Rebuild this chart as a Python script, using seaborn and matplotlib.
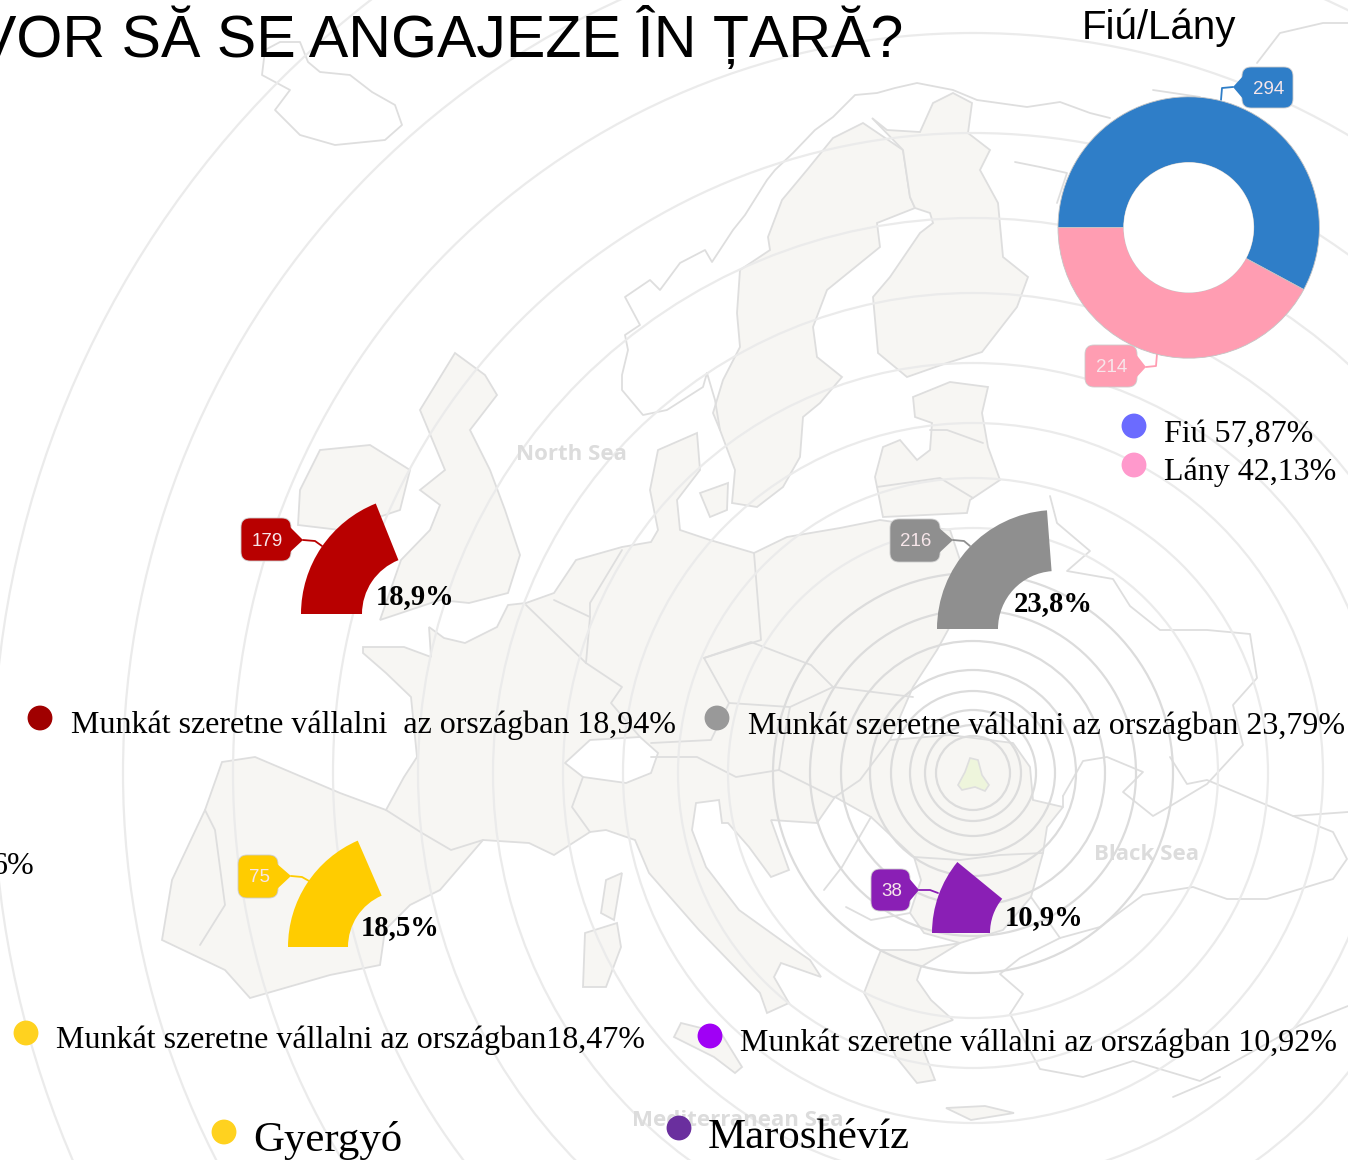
import numpy as np
import pandas as pd
import seaborn as sns
import matplotlib
matplotlib.use('Agg')
import matplotlib.pyplot as plt
from matplotlib.patches import Circle, FancyBboxPatch, Polygon

# values
gender_names = ['Fiú', 'Lány']
gender_counts = [294, 214]
gender_pct = ['57,87%', '42,13%']
region_counts = [179, 216, 75, 38]
region_pct = [18.94, 23.79, 18.47, 10.92]
region_short = ['18,9%', '23,8%', '18,5%', '10,9%']
legend_text = ['Munkát szeretne vállalni  az országban 18,94%',
               'Munkát szeretne vállalni az országban 23,79%',
               'Munkát szeretne vállalni az országban18,47%',
               'Munkát szeretne vállalni az országban 10,92%']
towns = ['Gyergyó', 'Maroshévíz']
title = 'VOR SĂ SE ANGAJEZE ÎN ȚARĂ?'

W, H = 1348, 1160
def P(pts):
    # picture pixels (y down) to axes coords (y up)
    return [(x, H - y) for x, y in pts]

sns.set_theme(style='white')
plt.rcParams['font.family'] = ['Liberation Serif', 'DejaVu Sans']

fig = plt.figure(figsize=(W / 100, H / 100), dpi=100)
ax = fig.add_axes([0, 0, 1, 1])

# background map, traced by hand
land = [
    # sweden
    [(782,200),(807,170),(833,138),(863,123),(903,150),(910,197),(915,208),(877,223),(880,247),(827,290),(813,327),(817,357),(842,377),(820,403),(803,417),(800,457),(783,487),(757,507),(732,503),(735,470),(720,430),(713,413),(723,380),(740,347),(737,313),(740,270),(770,250),(768,237)],
    # finland
    [(953,93),(972,103),(968,133),(990,150),(980,170),(998,203),(1003,257),(1028,277),(1017,307),(982,352),(947,363),(907,377),(878,353),(873,297),(890,277),(920,233),(933,223),(930,213),(915,208),(910,197),(903,150),(872,118),(887,130),(920,132),(933,103)],
    # baltics
    [(913,397),(950,382),(988,387),(982,413),(988,447),(1000,480),(970,500),(967,513),(883,517),(875,477),(883,447),(900,440),(917,460),(930,450),(932,423),(915,417)],
    # britain, ireland
    [(455,353),(485,375),(497,395),(470,430),(490,470),(505,510),(520,555),(508,593),(469,603),(440,600),(380,620),(401,560),(430,530),(440,505),(420,490),(445,470),(420,410)],
    [(320,450),(370,445),(410,470),(400,510),(340,530),(298,525),(300,490)],
    # mainland
    [(363,647),(404,647),(431,657),(429,627),(444,638),(465,643),(497,627),(508,605),(526,603),(554,593),(576,560),(622,547),(651,542),(658,530),(650,490),(658,450),(697,433),(700,470),(677,500),(680,530),(710,540),(754,553),(787,537),(840,528),(880,520),(950,530),(970,590),(937,650),(913,687),(890,740),(950,735),(1013,743),(1030,767),(1033,800),(1063,807),(1047,827),(1043,853),(1031,897),(1003,930),(960,943),(924,933),(910,913),(921,880),(914,857),(871,817),(835,797),(817,823),(771,820),(789,870),(771,877),(749,847),(728,823),(722,823),(719,800),(696,803),(692,830),(706,867),(739,910),(785,943),(810,960),(821,977),(781,963),(774,977),(789,1003),(767,1013),(760,993),(699,930),(649,873),(635,840),(606,830),(590,832),(554,855),(529,843),(483,840),(440,890),(410,905),(385,930),(380,965),(330,975),(250,998),(225,970),(162,940),(172,880),(205,810),(222,762),(255,757),(340,793),(386,810),(404,777),(417,757),(411,697),(386,673),(363,653)],
    # greece
    [(874,967),(881,950),(917,950),(960,943),(921,967),(917,980),(931,1000),(953,1020),(917,1033),(935,1080),(917,1083),(896,1057),(881,1023),(864,993)],
    # islands
    [(700,493),(728,483),(727,510),(710,517)],
    [(606,880),(622,873),(614,920),(601,913)],
    [(585,933),(617,923),(621,947),(606,987),(583,987)],
    [(674,1037),(681,1023),(721,1033),(742,1067),(735,1073),(714,1057)],
    [(946,1108),(985,1106),(1014,1113),(971,1120)],
]
for poly in land:
    ax.add_patch(Polygon(P(poly), closed=True, fc='#f7f6f3', ec='#dedede', lw=1.3, zorder=1))

# switzerland is left white
ax.add_patch(Polygon(P([(565,763),(590,740),(640,737),(658,753),(651,773),(626,783),(583,777)]),
                     closed=True, fc='white', ec='#dedede', lw=1.3, zorder=1.5))

outlines = [
    # iceland
    [(265,50),(280,42),(300,42),(308,62),(320,72),(350,75),(372,92),(395,105),(402,125),(385,140),(335,145),(300,135),(275,110),(290,90),(262,75),(265,50)],
    # norway
    [(707,373),(703,387),(667,410),(643,415),(622,390),(622,375),(628,350),(625,335),(640,325),(625,297),(650,280),(660,290),(680,263),(705,250),(712,262),(733,230),(745,215),(767,180),(775,170),(793,153),(815,130),(833,117),(855,95),(877,93),(895,88),(917,83),(953,90),(977,100),(1027,107),(1060,102),(1090,113),(1110,118)],
    [(707,373),(715,400),(720,430)],
    # kola, far north
    [(1015,162),(1040,167),(1067,173),(1057,203)],
    [(1153,90),(1200,97)],
    [(1257,63),(1280,33),(1323,23),(1348,23)],
    # ukraine, crimea
    [(1050,496),(1057,523),(1090,551),(1067,571),(1113,579),(1130,606),(1160,630),(1207,630),(1250,634),(1257,678),(1233,705),(1243,745),(1207,784),(1167,808),(1153,816),(1123,792),(1143,772),(1107,757),(1083,761),(1063,796)],
    [(1170,757),(1187,784),(1207,780),(1293,816),(1348,812)],
    [(1293,816),(1333,832),(1347,859),(1333,879),(1267,899),(1227,899),(1193,887),(1143,895),(1100,927),(1060,938),(1020,958),(1000,974),(1023,994),(1010,1014),(1040,1069),(1083,1077),(1133,1061),(1200,1081),(1300,1025),(1348,1006)],
    [(1173,1097),(1220,1077)],
    [(1031,897),(1060,938)],
    # inner borders
    [(526,605),(586,663)],
    [(554,600),(590,617),(590,603),(622,550)],
    [(590,617),(586,663),(622,687),(611,703),(640,737)],
    [(754,553),(761,640),(704,658),(729,703),(711,740),(651,743)],
    [(704,658),(751,642),(811,665),(833,687),(790,707),(729,703)],
    [(833,687),(913,697)],
    [(651,757),(697,757),(736,777),(779,770),(783,743),(790,707)],
    [(779,770),(833,797),(835,797)],
    [(583,777),(572,807),(590,832)],
    [(386,810),(422,833),(451,850),(483,840)],
    [(205,810),(215,830),(225,905),(200,945)],
    [(890,740),(860,780),(835,797)],
    [(914,857),(960,860),(1000,855),(1043,853)],
    [(930,430),(947,430),(983,443)],
    [(877,487),(940,478),(973,498)],
    [(871,817),(842,867),(824,890)],
    [(846,907),(871,920),(910,913)],
    [(1063,807),(1063,796)],
]
for line in outlines:
    xy = np.array(P(line))
    ax.plot(xy[:, 0], xy[:, 1], color='#dedede', lw=1.3, zorder=2)

ax.add_patch(Polygon(P([(970,758),(978,760),(982,775),(989,785),(985,791),(975,787),(962,790),(958,785),(965,772)]),
                     closed=True, fc='#eef5dc', ec='#dedede', lw=1.2, zorder=2))

ring_r = [37, 48, 63, 82, 103, 132, 163, 200, 245, 295, 350, 410, 480, 555, 640, 740, 850, 980]
for i, r in enumerate(ring_r):
    col = '#dcdcdc' if i < 8 else '#ebebeb'
    ax.add_patch(Circle((973, H - 773), r, fc='none', ec=col, lw=1.6, zorder=3))

for txt, x, y in [('North Sea', 571, 455), ('Black Sea', 1147, 855), ('Mediterranean Sea', 738, 1121)]:
    ax.text(x, H - y, txt, family='Open Sans', fontweight='bold', fontsize=16, color='#dcdcdc',
            ha='center', va='center', zorder=4)

# gauges
reg_colors = ['#b80000', '#8f8f8f', '#ffcc00', '#8a1fb5']
reg_center = [(420, 614), (1056, 629), (404, 947), (1044, 933)]
reg_radius = [119, 119, 116, 112]
reg_hole = [58, 58, 56, 54]
for pct, c, col, r, h in zip(region_pct, reg_center, reg_colors, reg_radius, reg_hole):
    wedges, _ = ax.pie([pct, 100 - pct], colors=[col, 'none'], startangle=180, counterclock=False,
                       center=(c[0], H - c[1]), radius=r, frame=True,
                       wedgeprops=dict(width=r - h, lw=0))
    for w in wedges:
        w.set_zorder(6)

# donut
gender_colors = ['#2f7ec8', '#ff9db2']
wedges, _ = ax.pie(gender_counts, colors=gender_colors, startangle=180, counterclock=False,
                   center=(1188.7, H - 227.5), radius=130.7, frame=True,
                   wedgeprops=dict(width=65.7, lw=0.6, edgecolor='#c4c4c4'))
for w in wedges:
    w.set_zorder(6)
ax.add_patch(Circle((1188.7, H - 227.5), 65, fc='white', ec='none', zorder=6.5))

def callout(x0, x1, y0, y1, tip, wire, col, label):
    ax.add_patch(FancyBboxPatch((x0 + 7, H - y1 + 7), x1 - x0 - 14, y1 - y0 - 14,
                                boxstyle='round,pad=7,rounding_size=9', fc=col, ec='#cccccc', lw=0.6, zorder=7))
    mid = (y0 + y1) / 2
    if tip[0] > x1:
        pts = [(x1 - 2, y0 + 8), tip, (x1 - 2, y1 - 8)]
    else:
        pts = [(x0 + 2, y0 + 8), tip, (x0 + 2, y1 - 8)]
    ax.add_patch(Polygon(P(pts), closed=True, fc=col, ec='none', zorder=7))
    xy = np.array(P([tip] + wire))
    ax.plot(xy[:, 0], xy[:, 1], color=col, lw=1.3, zorder=5.5)
    ax.text((x0 + x1) / 2 + 1, H - mid - 1.5, str(label), color='#f7e6ea', fontsize=13.5, family='Liberation Sans',
            ha='center', va='center', zorder=8)

callout(241, 291, 518, 561, (303, 540), [(315, 541), (322, 546)], reg_colors[0], region_counts[0])
callout(890, 940, 519, 562, (953, 540), [(964, 541), (970, 546)], reg_colors[1], region_counts[1])
callout(238, 278, 855, 898, (291, 876), [(302, 877), (309, 881)], reg_colors[2], region_counts[2])
callout(871, 910, 869, 911, (919, 890), [(930, 890), (938, 893)], reg_colors[3], region_counts[3])
callout(1242, 1293, 67, 108, (1233, 87), [(1222, 88), (1221, 100)], gender_colors[0], gender_counts[0])
callout(1085, 1137, 345, 387, (1146, 367), [(1156, 366), (1157, 354)], gender_colors[1], gender_counts[1])

# legend dots
dot_x = [40, 717, 26, 710, 224, 679, 1134, 1134]
dot_y = [718, 718, 1033, 1036, 1132, 1128, 426, 465]
dot_names = ['r', 'g', 'y', 'p', 'gy', 'ma', 'fi', 'la']
dot_colors = ['#a00000', '#999999', '#ffd21f', '#a000f5', '#ffd21f', '#6a2f9e', '#6b6bff', '#ff99cc']
dots = pd.DataFrame({'x': dot_x, 'y': [H - v for v in dot_y], 'name': dot_names})
sns.scatterplot(data=dots, x='x', y='y', hue='name', palette=dot_colors, s=320, linewidth=0,
                legend=False, ax=ax, zorder=9)

# texts
for txt, x, y in zip(legend_text, [71, 748, 56, 740], [725, 726, 1040, 1043]):
    ax.text(x, H - y, txt, fontsize=23, color='black', ha='left', va='center', zorder=10)
for txt, x, y in zip(region_short, [376, 1014, 361, 1005], [597, 604, 928, 918]):
    ax.text(x, H - y, txt, fontsize=20.6, fontweight='bold', color='black', ha='left', va='center', zorder=10)
for name, pct, y in zip(gender_names, gender_pct, [434, 472]):
    ax.text(1164, H - y, f'{name} {pct}', fontsize=23, color='black', ha='left', va='center', zorder=10)
for name, x, y in zip(towns, [253, 708], [1141, 1138]):
    ax.text(x, H - y, name, fontsize=30.9, color='black', ha='left', va='center', zorder=10)
ax.text(34, H - 866, '6%', fontsize=23, color='black', ha='right', va='center', zorder=10)
ax.text(903, H - 37, title, family='Liberation Sans', fontsize=42.6, color='black', ha='right', va='center', zorder=10)
ax.text(1159, H - 28, 'Fiú/Lány', family='Liberation Sans', fontsize=29, color='black', ha='center', va='center', zorder=10)

ax.set_xlim(0, W)
ax.set_ylim(0, H)
ax.set_aspect('auto')
ax.axis('off')
fig.savefig('out.png', dpi=100, facecolor='white')
